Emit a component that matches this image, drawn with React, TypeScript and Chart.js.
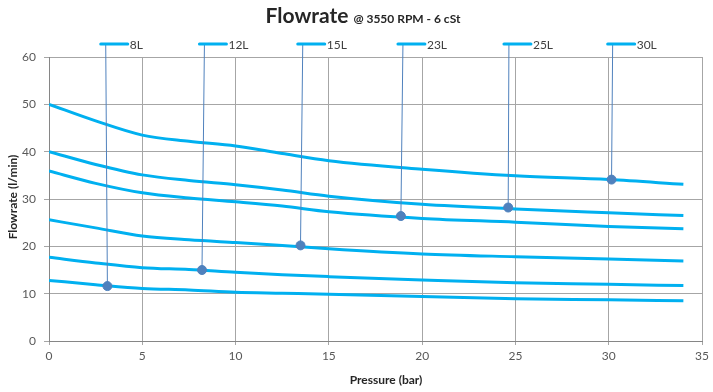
import React, { useEffect, useRef } from "react";
import { Chart, registerables } from "chart.js";

Chart.register(...registerables);

const pressure = [0, 2.5, 5, 7.5, 10, 12.5, 15, 20, 25, 30, 34];
const flow30L = [50, 46.5, 43.5, 42.2, 41.2, 39.6, 38.1, 36.3, 34.9, 34.1, 33.1];
const flow25L = [40, 37.3, 35.1, 33.9, 33.0, 31.9, 30.6, 28.9, 27.9, 27.1, 26.5];
const flow23L = [35.9, 33.3, 31.3, 30.2, 29.4, 28.5, 27.3, 25.9, 25.1, 24.2, 23.7];
const flow15L = [25.6, 23.9, 22.2, 21.4, 20.8, 20.2, 19.5, 18.4, 17.8, 17.3, 16.9];
const flow12L = [17.7, 16.5, 15.5, 15.1, 14.5, 14.0, 13.6, 12.9, 12.3, 12.0, 11.7];
const flow8L = [12.8, 11.9, 11.1, 10.8, 10.3, 10.1, 9.9, 9.4, 8.9, 8.7, 8.5];

const labelNames = ["8L", "12L", "15L", "23L", "25L", "30L"];
const markerX = [3.13, 8.2, 13.48, 18.86, 24.61, 30.15];
const markerY = [11.6, 15.0, 20.2, 26.4, 28.2, 34.1];
const leaderX = [3.04, 8.33, 13.6, 18.97, 24.65, 30.21];

const xTicks = [0, 5, 10, 15, 20, 25, 30, 35];
const yTicks = [0, 10, 20, 30, 40, 50, 60];

const titleMain = "Flowrate";
const titleSub = "@ 3550 RPM - 6 cSt";
const xTitle = "Pressure (bar)";
const yTitle = "Flowrate (l/min)";

const CURVE = "#00b0f0";
const MARK = "#4f81bd";
const FONT = "Lato, 'Open Sans', sans-serif";

const curves = [flow30L, flow25L, flow23L, flow15L, flow12L, flow8L];

const overlay = {
  id: "overlay",
  beforeDatasetDraw(chart: any, args: any) {
    if (args.index !== 0) return;
    const { ctx, scales, chartArea } = chart;
    const xs = scales.x;
    const ys = scales.y;
    const topY = chartArea.top - 13;
    ctx.save();
    ctx.strokeStyle = MARK;
    ctx.lineWidth = 1;
    for (let i = 0; i < labelNames.length; i++) {
      const mx = xs.getPixelForValue(markerX[i]);
      const my = ys.getPixelForValue(markerY[i]);
      const lx = xs.getPixelForValue(leaderX[i]);
      ctx.beginPath();
      ctx.moveTo(lx, topY);
      ctx.lineTo(mx, my);
      ctx.stroke();
    }
    ctx.restore();
  },
  afterDraw(chart: any) {
    const { ctx, scales, chartArea } = chart;
    const xs = scales.x;
    const topY = chartArea.top - 13;
    ctx.save();
    // leader labels
    for (let i = 0; i < labelNames.length; i++) {
      const lx = xs.getPixelForValue(leaderX[i]);
      ctx.strokeStyle = CURVE;
      ctx.lineWidth = 3;
      ctx.lineCap = "round";
      ctx.beginPath();
      ctx.moveTo(lx - 5, topY);
      ctx.lineTo(lx + 22, topY);
      ctx.stroke();
      ctx.fillStyle = "#404040";
      ctx.font = `12px ${FONT}`;
      ctx.textAlign = "left";
      ctx.textBaseline = "middle";
      ctx.fillText(labelNames[i], lx + 24, topY + 1);
    }
    // title
    ctx.fillStyle = "#262626";
    ctx.textBaseline = "alphabetic";
    ctx.font = `bold 21px ${FONT}`;
    const w1 = ctx.measureText(titleMain).width;
    ctx.font = `bold 12px ${FONT}`;
    const w2 = ctx.measureText(titleSub).width;
    const gap = 5;
    const total = w1 + gap + w2;
    const cx = 363;
    let x0 = cx - total / 2;
    ctx.font = `bold 21px ${FONT}`;
    ctx.fillText(titleMain, x0, 23);
    ctx.font = `bold 12px ${FONT}`;
    ctx.fillText(titleSub, x0 + w1 + gap, 23);
    // axis titles
    ctx.fillStyle = "#262626";
    ctx.font = `bold 12px ${FONT}`;
    ctx.textAlign = "center";
    ctx.textBaseline = "middle";
    ctx.fillText(xTitle, 386, 380);
    ctx.translate(13, (chartArea.top + chartArea.bottom) / 2 - 2);
    ctx.rotate(-Math.PI / 2);
    ctx.fillText(yTitle, 0, 0);
    ctx.restore();
  },
};

export default function App() {
  const ref = useRef<HTMLCanvasElement>(null);
  useEffect(() => {
    if (!ref.current) return;
    const datasets: any[] = [
      {
        type: "scatter",
        data: markerX.map((x, i) => ({ x, y: markerY[i] })),
        pointRadius: 4.5,
        pointBackgroundColor: MARK,
        pointBorderColor: MARK,
        showLine: false,
        order: 0,
      },
      ...curves.map((c) => ({
        type: "line",
        data: pressure.map((x, i) => ({ x, y: c[i] })),
        borderColor: CURVE,
        borderWidth: 3,
        pointRadius: 0,
        fill: false,
        cubicInterpolationMode: "monotone",
        order: 1,
      })),
    ];
    const chart = new Chart(ref.current, {
      type: "line",
      data: { datasets },
      options: {
        animation: false,
        responsive: false,
        devicePixelRatio: 1,
        layout: { padding: { top: 57, right: 7, left: 0, bottom: 0 } },
        plugins: { legend: { display: false }, tooltip: { enabled: false }, title: { display: false } },
        scales: {
          x: {
            type: "linear",
            min: 0,
            max: 35,
            afterBuildTicks: (s: any) => {
              s.ticks = xTicks.map((v) => ({ value: v }));
            },
            afterFit: (s: any) => {
              s.height = 51;
            },
            ticks: { color: "#595959", font: { family: FONT, size: 12 }, padding: 4 },
            grid: { color: "#a6a6a6", lineWidth: 1, tickLength: 4 },
            border: { color: "#868686" },
          },
          y: {
            type: "linear",
            min: 0,
            max: 60,
            afterBuildTicks: (s: any) => {
              s.ticks = yTicks.map((v) => ({ value: v }));
            },
            afterFit: (s: any) => {
              s.width = 49;
            },
            ticks: { color: "#595959", font: { family: FONT, size: 12 }, padding: 8 },
            grid: { color: "#a6a6a6", lineWidth: 1, tickLength: 5 },
            border: { color: "#868686" },
          },
        },
      },
      plugins: [overlay],
    } as any);
    return () => chart.destroy();
  }, []);
  return (
    <div style={{ position: "fixed", left: 0, top: 0, width: 713, height: 392, background: "#fff" }}>
      <canvas ref={ref} width={713} height={392} />
    </div>
  );
}
